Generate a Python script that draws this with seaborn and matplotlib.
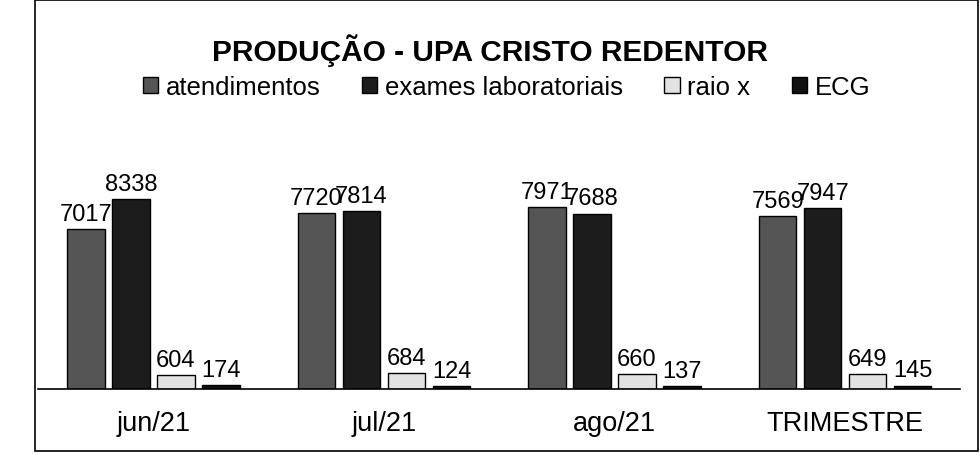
import pandas as pd
import matplotlib.pyplot as plt
import seaborn as sns
from matplotlib.patches import Rectangle

# data
periods = ['jun/21', 'jul/21', 'ago/21', 'TRIMESTRE']
series = ['atendimentos', 'exames laboratoriais', 'raio x', 'ECG']
atendimentos = [7017, 7720, 7971, 7569]
exames = [8338, 7814, 7688, 7947]
raio_x = [604, 684, 660, 649]
ecg = [174, 124, 137, 145]

df = pd.DataFrame({
    'periodo': periods * 4,
    'serie': sum([[s] * 4 for s in series], []),
    'valor': atendimentos + exames + raio_x + ecg,
})

sns.set_style("white")
plt.rcParams['font.family'] = ['Liberation Sans', 'DejaVu Sans']
plt.rcParams['text.color'] = 'black'
plt.rcParams['xtick.color'] = 'black'

fig = plt.figure(figsize=(9.8, 4.56), dpi=100)
ax = fig.add_axes([0.039, 0.145, 0.941, 0.45])

colors = ['#555555', '#1c1c1c', '#e2e2e2', '#111111']
sns.barplot(data=df, x='periodo', y='valor', hue='serie', order=periods,
            hue_order=series, palette=colors, width=0.78, gap=0.17,
            edgecolor='black', linewidth=1, ax=ax, legend=True)

for cont in ax.containers:
    ax.bar_label(cont, fmt='%d', padding=3, fontsize=17, color='black',
                 clip_on=False)

ax.set_ylim(0, 9000)
ax.set_xlim(-0.5, 3.5)
ax.set_xlabel('')
ax.set_ylabel('')
ax.set_yticks([])
ax.tick_params(axis='x', length=0, pad=15, labelsize=19.5, labelcolor='black')
for s in ['top', 'right', 'left']:
    ax.spines[s].set_visible(False)
ax.spines['bottom'].set_color('black')
ax.spines['bottom'].set_linewidth(1.2)

handles, labels = ax.get_legend_handles_labels()
ax.legend_.remove()
fig.legend(handles, labels, loc='center', bbox_to_anchor=(0.517, 0.807),
           ncol=4, frameon=False, fontsize=18.5, handlelength=0.6,
           handleheight=0.6, handletextpad=0.3, columnspacing=1.6)

fig.text(0.50, 0.89, 'PRODUÇÃO - UPA CRISTO REDENTOR', ha='center',
         va='center', fontsize=21.5, fontweight='bold', color='black')

# outer chart border
fig.add_artist(Rectangle((0.036, 0.008), 0.962, 0.99, transform=fig.transFigure,
                         fill=False, edgecolor='black', linewidth=1.2))

plt.savefig('out.png', dpi=100)
